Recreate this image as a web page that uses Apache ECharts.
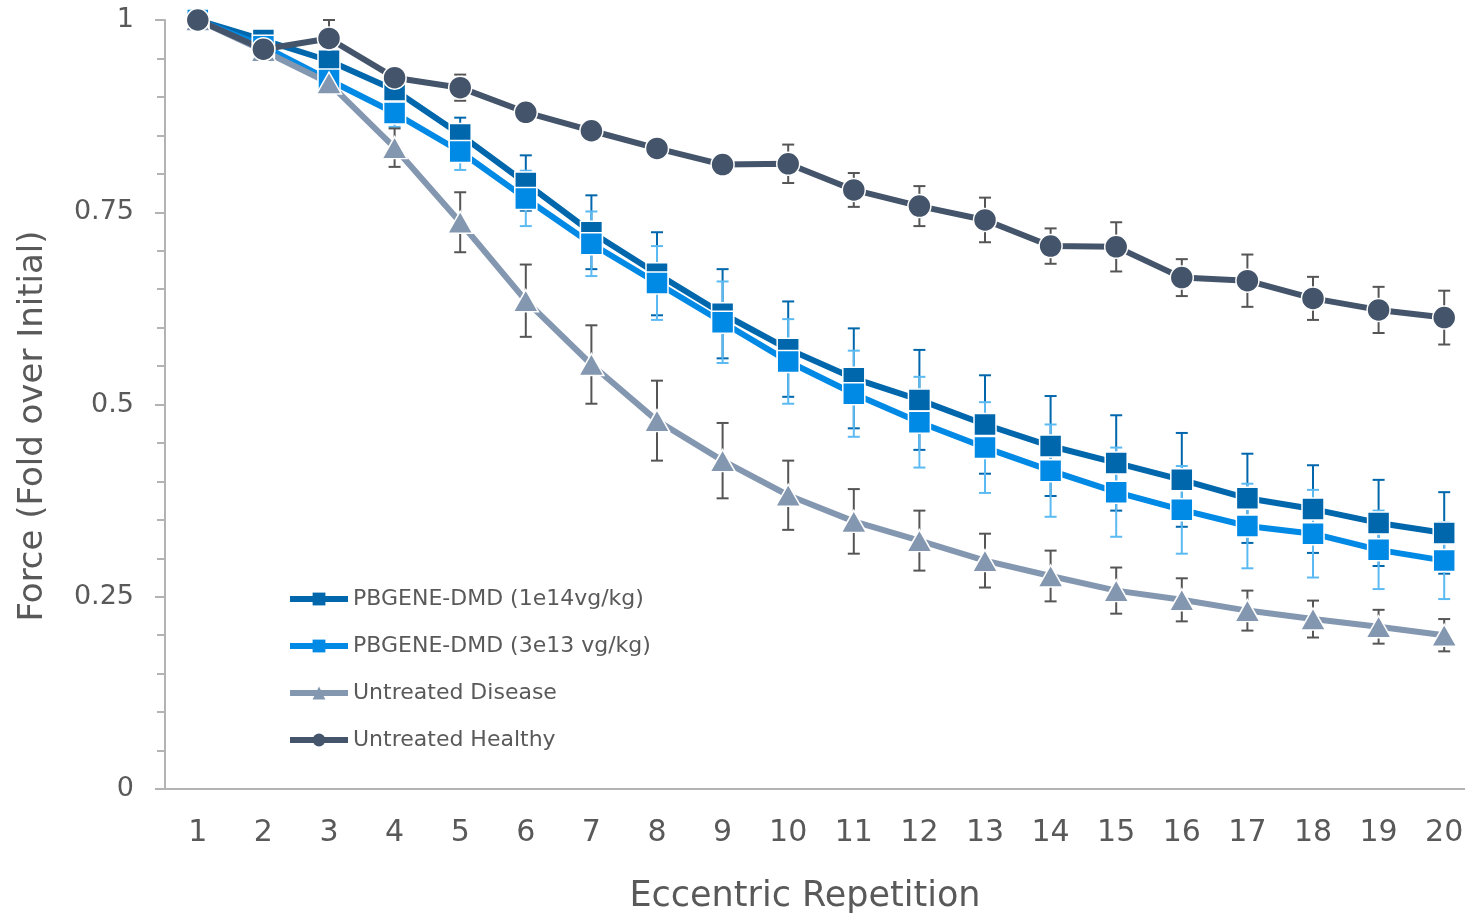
<!DOCTYPE html>
<html>
<head>
<meta charset="utf-8">
<script src="https://cdn.jsdelivr.net/npm/echarts@6/dist/echarts.min.js"></script>
<style>html,body{margin:0;padding:0;background:#fff;}#c{width:1465px;height:917px;}</style>
</head>
<body>
<div id="c"></div>
<script>
var categories = ['1','2','3','4','5','6','7','8','9','10','11','12','13','14','15','16','17','18','19','20'];
var seriesNames = ['PBGENE-DMD (1e14vg/kg)', 'PBGENE-DMD (3e13 vg/kg)', 'Untreated Disease', 'Untreated Healthy'];
var highDose = [1.000, 0.974, 0.947, 0.909, 0.851, 0.788, 0.724, 0.670, 0.618, 0.572, 0.534, 0.506, 0.474, 0.446, 0.424, 0.402, 0.378, 0.364, 0.346, 0.333];
var highDoseErr = [0, 0.010, 0.012, 0.015, 0.022, 0.036, 0.048, 0.054, 0.058, 0.062, 0.065, 0.065, 0.064, 0.065, 0.062, 0.061, 0.058, 0.057, 0.056, 0.053];
var lowDose = [1.000, 0.966, 0.922, 0.879, 0.829, 0.768, 0.709, 0.658, 0.607, 0.556, 0.514, 0.477, 0.444, 0.414, 0.386, 0.363, 0.342, 0.332, 0.311, 0.297];
var lowDoseErr = [0, 0.010, 0.012, 0.018, 0.024, 0.036, 0.042, 0.048, 0.053, 0.055, 0.056, 0.059, 0.059, 0.060, 0.058, 0.057, 0.055, 0.057, 0.051, 0.050];
var disease = [1.000, 0.960, 0.918, 0.834, 0.737, 0.635, 0.552, 0.479, 0.427, 0.382, 0.348, 0.323, 0.297, 0.277, 0.258, 0.246, 0.232, 0.221, 0.211, 0.200];
var diseaseErr = [0, 0.010, 0.012, 0.025, 0.039, 0.047, 0.051, 0.052, 0.049, 0.045, 0.042, 0.039, 0.035, 0.033, 0.030, 0.028, 0.026, 0.024, 0.022, 0.021];
var healthy = [1.000, 0.962, 0.976, 0.925, 0.912, 0.880, 0.856, 0.833, 0.812, 0.813, 0.779, 0.758, 0.740, 0.706, 0.705, 0.665, 0.661, 0.638, 0.623, 0.613];
var healthyErr = [0, 0.008, 0.024, 0.010, 0.017, 0.010, 0.010, 0.010, 0.010, 0.025, 0.022, 0.026, 0.029, 0.023, 0.032, 0.024, 0.034, 0.028, 0.030, 0.035];
var yTicks = [0, 0.25, 0.5, 0.75, 1];

var FONT = '"DejaVu Sans", Verdana, sans-serif';
var TEXT = '#595959';
var AXIS = '#b3b3b3';
var COLORS = ['#0067ac', '#0089e5', '#8497b0', '#44546a'];
var ERR_COLORS = ['#0067ac', '#5cbaf2', '#555555', '#555555'];

function errData(vals, errs) {
  return vals.map(function (v, i) { return [i, v, errs[i]]; });
}
function errSeries(vals, errs, color) {
  return {
    type: 'custom',
    z: 1,
    silent: true,
    data: errData(vals, errs),
    renderItem: function (params, api) {
      var x = api.value(0), v = api.value(1), e = api.value(2);
      if (!e) return null;
      var top = api.coord([x, v + e]);
      var bot = api.coord([x, v - e]);
      var w = 6;
      var st = { stroke: color, lineWidth: 2 };
      return {
        type: 'group',
        children: [
          { type: 'line', shape: { x1: top[0], y1: top[1], x2: bot[0], y2: bot[1] }, style: st },
          { type: 'line', shape: { x1: top[0] - w, y1: top[1], x2: top[0] + w, y2: top[1] }, style: st },
          { type: 'line', shape: { x1: bot[0] - w, y1: bot[1], x2: bot[0] + w, y2: bot[1] }, style: st }
        ]
      };
    }
  };
}
function lineSeries(name, vals, color, symbol, size) {
  return {
    name: name,
    type: 'line',
    z: 2,
    data: vals,
    symbol: symbol,
    symbolSize: size,
    showAllSymbol: true,
    lineStyle: { color: color, width: 6 },
    itemStyle: { color: color, borderColor: '#ffffff', borderWidth: 1.5 },
    emphasis: { disabled: true },
    animation: false
  };
}

var chart = echarts.init(document.getElementById('c'), null, { renderer: 'canvas' });
chart.setOption({
  animation: false,
  backgroundColor: '#ffffff',
  grid: { left: 165, top: 20, bottom: 128, width: 1312, containLabel: false, outerBoundsMode: 'none' },
  legend: {
    orient: 'vertical',
    left: 282,
    top: 583,
    itemWidth: 58,
    itemHeight: 16,
    itemGap: 25,
    data: seriesNames.map(function (n, i) {
      return { name: n, lineStyle: { width: 6, color: COLORS[i] }, itemStyle: { borderWidth: 0 } };
    }),
    textStyle: { fontFamily: FONT, fontSize: 22, color: TEXT }
  },
  xAxis: {
    type: 'category',
    data: categories,
    boundaryGap: true,
    axisLine: { lineStyle: { color: AXIS, width: 2 } },
    axisTick: { alignWithLabel: true, length: 7, lineStyle: { color: AXIS, width: 2 } },
    axisLabel: { fontFamily: FONT, fontSize: 30, color: TEXT, margin: 29 },
    splitLine: { show: false }
  },
  yAxis: {
    type: 'value',
    min: 0,
    max: 1,
    interval: 0.25,
    axisLine: { show: true, lineStyle: { color: AXIS, width: 2 } },
    axisTick: { show: true, length: 10, lineStyle: { color: AXIS, width: 2 } },
    minorTick: { show: true, splitNumber: 5, length: 8, lineStyle: { color: AXIS, width: 2 } },
    axisLabel: {
      fontFamily: FONT, fontSize: 27, color: TEXT, margin: 31,
      formatter: function (v) { return yTicks.indexOf(v) >= 0 ? String(v) : ''; }
    },
    splitLine: { show: false }
  },
  graphic: [
    { type: 'text', x: 33, y: 426, rotation: Math.PI / 2,
      style: { text: 'Force (Fold over Initial)', fontFamily: FONT, fontSize: 34, fill: TEXT, align: 'center', verticalAlign: 'middle' } },
    { type: 'text', x: 805, y: 897,
      style: { text: 'Eccentric Repetition', fontFamily: FONT, fontSize: 35, fill: TEXT, align: 'center', verticalAlign: 'middle' } }
  ],
  series: [
    errSeries(highDose, highDoseErr, ERR_COLORS[0]),
    errSeries(lowDose, lowDoseErr, ERR_COLORS[1]),
    errSeries(disease, diseaseErr, ERR_COLORS[2]),
    errSeries(healthy, healthyErr, ERR_COLORS[3]),
    lineSeries(seriesNames[0], highDose, COLORS[0], 'rect', 22),
    lineSeries(seriesNames[1], lowDose, COLORS[1], 'rect', 22),
    lineSeries(seriesNames[2], disease, COLORS[2], 'triangle', [25, 22]),
    lineSeries(seriesNames[3], healthy, COLORS[3], 'circle', 23)
  ]
});
</script>
</body>
</html>
